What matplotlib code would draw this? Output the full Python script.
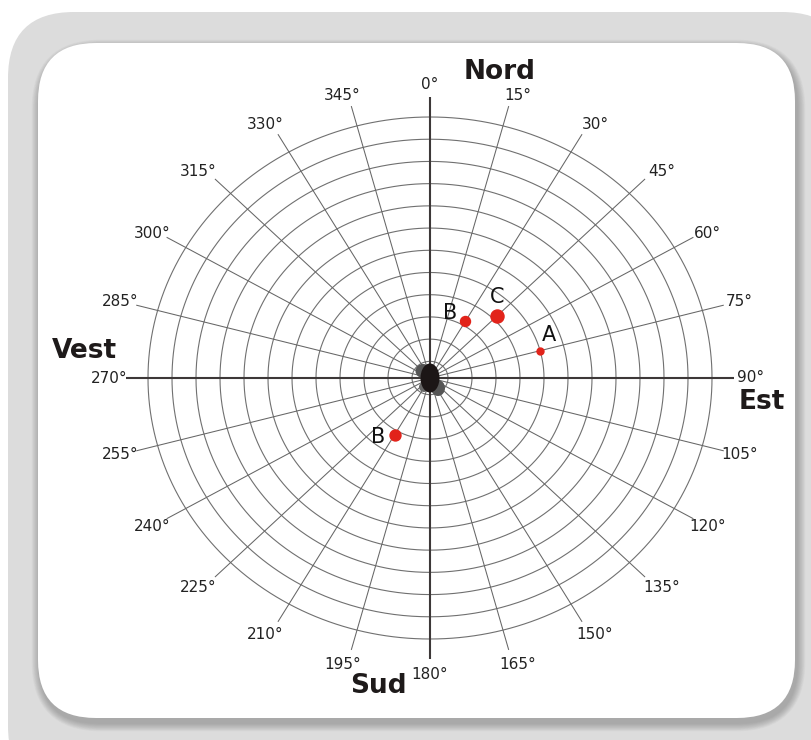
import numpy as np
import matplotlib
matplotlib.use("Agg")
import matplotlib.pyplot as plt
from matplotlib.patches import FancyBboxPatch, Ellipse

# --------------------------
# données
# --------------------------
point_names = ["A", "C", "B", "B"]
point_azimuth = [75, 45, 30, 210]        # degrés, depuis le nord
point_dist = [4.0, 3.2, 2.2, 2.2]        # en anneaux
point_size = [5.0, 9.4, 7.2, 7.9]        # diamètre du marqueur (pt)
label_offset = [(6.5, 11.5), (0, 13.7), (-10.8, 5.8), (-12.2, -1.4)]

ring_levels = list(range(0, 12))
spoke_angles = list(range(0, 360, 15))
cardinals = ["Nord", "Est", "Sud", "Vest"]

W, H = 812, 740
fig = plt.figure(figsize=(W / 100, H / 100), dpi=100)

# --------------------------
# cadre arrondi
# --------------------------
bg = fig.add_axes([0, 0, 1, 1])
bg.set_xlim(0, W)
bg.set_ylim(H, 0)
bg.axis("off")

bg.add_patch(FancyBboxPatch((8, 12), 840, 780, boxstyle="round,pad=0,rounding_size=66",
                            fc="#dcdcdc", ec="none"))
# ombre autour du panneau blanc
for i in range(12, 0, -1):
    bg.add_patch(FancyBboxPatch((38 - i * 0.7 + 2, 43 - i * 0.7 + 5), 757 + i * 1.4, 675 + i * 1.4,
                                boxstyle="round,pad=0,rounding_size=%d" % (58 + i),
                                fc="#6a6a6a", ec="none", alpha=0.045))
bg.add_patch(FancyBboxPatch((38, 43), 757, 675, boxstyle="round,pad=0,rounding_size=58",
                            fc="white", ec="none"))

# --------------------------
# diagramme polaire
# --------------------------
ax = fig.add_axes([148 / W, (H - 639) / H, 564 / W, 522 / H], projection="polar")
ax.set_aspect("auto")
ax.set_theta_zero_location("N")
ax.set_theta_direction(-1)
ax.set_ylim(0, 11)
r0 = -0.75
ax.set_rorigin(r0)
ax.grid(False)
ax.axis("off")
ax.patch.set_visible(False)

theta = np.linspace(0, 2 * np.pi, 721)
for r in ring_levels:
    ax.plot(theta, np.full_like(theta, r), color="#707070", lw=0.8, clip_on=False)

r_end = 11.9
for a in spoke_angles:
    t = np.deg2rad(a)
    if a % 90 == 0:
        continue
    ax.plot([t, t], [r0, r_end], color="#666666", lw=0.75, clip_on=False)

# axes nord-sud / est-ouest
for a in (0, 90, 180, 270):
    t = np.deg2rad(a)
    ax.plot([t, t], [r0, r_end], color="#3d3838", lw=1.5, clip_on=False, solid_capstyle="butt")

# graduations en degrés
for a in spoke_angles:
    t = np.deg2rad(a)
    s, c = np.sin(t), np.cos(t)
    dx = 3.5 * np.sign(round(s, 6)) if abs(s) < 0.8 else 0
    dy = -2.5 if c > 0.3 else 0
    ax.annotate(f"{a}°", xy=(t, 12.6), xytext=(dx, dy), textcoords="offset points",
                ha="center", va="center", fontsize=11, color="#222222", annotation_clip=False)

# amas au centre
for (dx, dy, w, h, c) in [(-7, 7, 15, 14, "#555555"), (8, -10, 14, 16, "#555555"),
                          (-6, -9, 10, 10, "#666666"), (0, 0, 19, 29, "#1c1616")]:
    ax.add_patch(Ellipse((0.5 + dx / 564, 0.5 + dy / 522), w / 564, h / 522,
                         transform=ax.transAxes, fc=c, ec="none", zorder=5, clip_on=False))

# points et étiquettes
for name, az, d, ms, off in zip(point_names, point_azimuth, point_dist, point_size, label_offset):
    t = np.deg2rad(az)
    ax.plot([t], [d], "o", ms=ms, color="#e2231a", mec="#e2231a", zorder=6, clip_on=False)
    ax.annotate(name, xy=(t, d), xytext=off, textcoords="offset points",
                ha="center", va="center", fontsize=15, color="#111111")

# points cardinaux
card_pos = {"Nord": (500, 72), "Est": (762, 402), "Sud": (378, 686), "Vest": (84, 351)}
for c in cardinals:
    x, y = card_pos[c]
    fig.text(x / W, 1 - y / H, c, ha="center", va="center", fontsize=19,
             fontweight="bold", color="#1e1a1a")

fig.savefig("out.png", dpi=100)
